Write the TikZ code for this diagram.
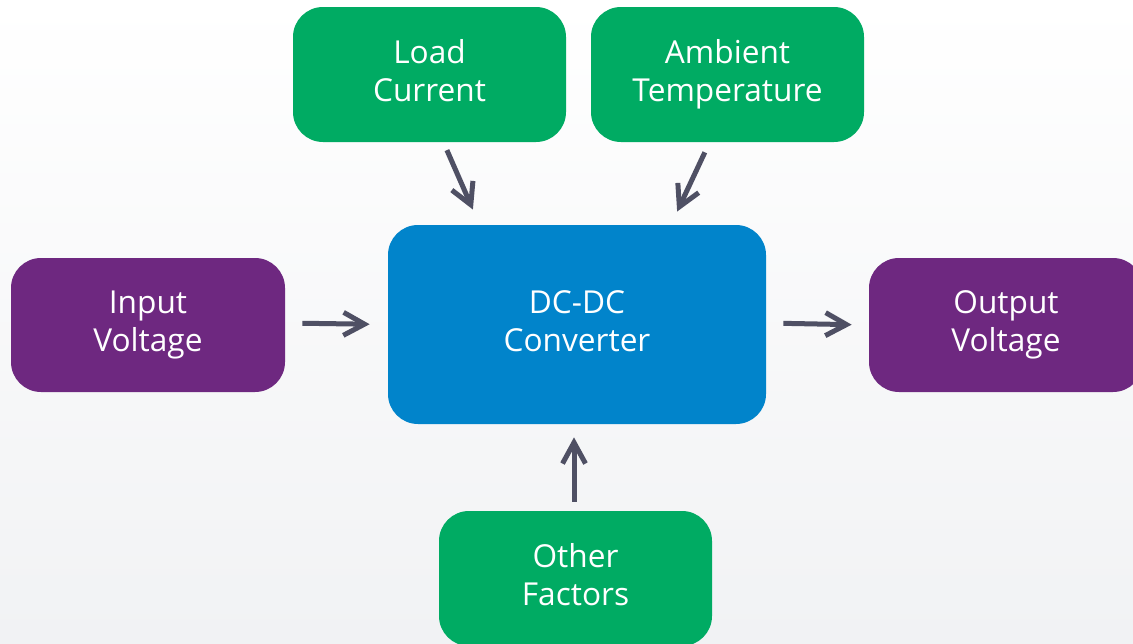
\documentclass[tikz,border=0pt]{standalone}
\usepackage{fontspec}
\setmainfont{Open Sans}
\usetikzlibrary{arrows.meta}
\definecolor{boxgreen}{HTML}{00AB63}
\definecolor{boxblue}{HTML}{0184CB}
\definecolor{boxpurple}{HTML}{6E2880}
\definecolor{arrowgray}{HTML}{4F5064}
\definecolor{bgbottom}{HTML}{F1F2F4}

\begin{document}
\begin{tikzpicture}[
  box/.style={rounded corners=0.6cm, text=white, align=center, inner sep=0pt,
    font=\fontsize{18}{21.6}\selectfont, execute at end node={\vphantom{g}}},
  factor/.style={box, fill=boxgreen, minimum width=5.46cm, minimum height=2.7cm},
  port/.style={box, fill=boxpurple, minimum width=5.48cm, minimum height=2.68cm},
  arr/.style={draw=arrowgray, line width=0.1cm, -{Straight Barb[length=0.42cm, width=0.46cm]}}
]
\clip (0,0) rectangle (22.66,12.86);
\shade[top color=white, bottom color=bgbottom] (0,0) rectangle (22.66,12.86);

\node[factor] (load) at (8.59,11.37) {Load\\Current};
\node[factor] (ambient) at (14.55,11.37) {Ambient\\Temperature};
\node[port] (input) at (2.96,6.36) {Input\\Voltage};
\node[box, fill=boxblue, minimum width=7.56cm, minimum height=3.98cm] (dcdc) at (11.54,6.37) {DC-DC\\Converter};
\node[port] (output) at (20.12,6.36) {Output\\Voltage};
\node[factor] (other) at (11.51,1.29) {Other\\Factors};

\draw[arr, shorten <=0.17cm, shorten >=0.33cm] ([xshift=0.28cm]load.south) -- ([xshift=-1.95cm]dcdc.north);
\draw[arr, shorten <=0.22cm, shorten >=0.29cm] ([xshift=-0.36cm]ambient.south) -- ([xshift=1.88cm]dcdc.north);
\draw[arr, shorten <=0.34cm, shorten >=0.36cm] ([yshift=0.04cm]input.east) -- (dcdc.west);
\draw[arr, shorten <=0.34cm, shorten >=0.34cm] ([yshift=0.03cm]dcdc.east) -- (output.west);
\draw[arr, shorten <=0.18cm, shorten >=0.26cm] ([xshift=-0.03cm]other.north) -- ([xshift=-0.06cm]dcdc.south);
\end{tikzpicture}
\end{document}
